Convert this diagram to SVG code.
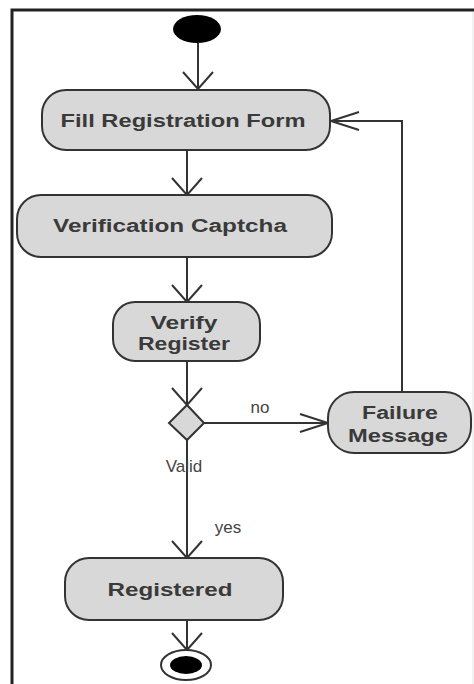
<svg xmlns="http://www.w3.org/2000/svg" width="474" height="684" viewBox="0 0 474 684">
<defs>
<style>
.node{fill:#d8d8d8;stroke:#333;stroke-width:2}
.lbl{font-family:"Liberation Sans",Arial,sans-serif;font-size:18px;font-weight:bold;fill:#3a3a3a;text-anchor:middle}
.small{font-family:"Liberation Sans",Arial,sans-serif;font-size:17px;fill:#444;text-anchor:middle}
.edge{stroke:#333;stroke-width:2;fill:none}
.frame{stroke:#222;stroke-width:3;fill:none}
</style>
<marker id="av" markerUnits="userSpaceOnUse" markerWidth="40" markerHeight="40" refX="18" refY="20" orient="auto" viewBox="0 0 40 40">
<path d="M1,5 L18,20 L1,35" fill="none" stroke="#333" stroke-width="2"/>
</marker>
<marker id="ah" markerUnits="userSpaceOnUse" markerWidth="40" markerHeight="40" refX="30" refY="20" orient="auto" viewBox="0 0 40 40">
<path d="M2,11 L30,20 L2,29" fill="none" stroke="#333" stroke-width="2"/>
</marker>
</defs>
<rect width="474" height="684" fill="#fff"/>
<g id="frame">
<path class="frame" d="M12,684 L12,10 L474,10"/>
<line x1="473" y1="12" x2="473" y2="684" stroke="#e4e4e4" stroke-width="1"/>
</g>
<g id="connectors">
<line class="edge" x1="198" y1="43" x2="198" y2="89" marker-end="url(#av)"/>
<line class="edge" x1="187" y1="150" x2="187" y2="195" marker-end="url(#av)"/>
<line class="edge" x1="187" y1="257" x2="187" y2="302" marker-end="url(#av)"/>
<line class="edge" x1="187" y1="361" x2="187" y2="405" marker-end="url(#av)"/>
<line class="edge" x1="204" y1="423" x2="328" y2="423" marker-end="url(#ah)"/>
<line class="edge" x1="187" y1="440" x2="187" y2="558" marker-end="url(#av)"/>
<line class="edge" x1="187" y1="620" x2="187" y2="650" marker-end="url(#av)"/>
<polyline class="edge" points="402,392 402,121 331,121" marker-end="url(#ah)"/>
<text class="small" x="260" y="413">no</text>
<text class="small" x="184" y="472">Valid</text>
<text class="small" x="228" y="533">yes</text>
</g>
<g id="start">
<ellipse cx="197" cy="29" rx="24" ry="14" fill="#000"/>
</g>
<g id="fill-form">
<rect class="node" x="42" y="90" width="288" height="60" rx="24" ry="24"/>
<text class="lbl" x="183" y="127" textLength="245" lengthAdjust="spacingAndGlyphs">Fill Registration Form</text>
</g>
<g id="captcha">
<rect class="node" x="17" y="195" width="315" height="62" rx="24" ry="24"/>
<text class="lbl" x="170" y="232" textLength="234" lengthAdjust="spacingAndGlyphs">Verification Captcha</text>
</g>
<g id="verify">
<rect class="node" x="113" y="302" width="147" height="59" rx="22" ry="22"/>
<text class="lbl" x="184" y="329" textLength="67" lengthAdjust="spacingAndGlyphs">Verify</text>
<text class="lbl" x="184" y="350" textLength="92" lengthAdjust="spacingAndGlyphs">Register</text>
</g>
<g id="decision">
<polygon points="187,405 204,423 187,440 169,423" fill="#d8d8d8" stroke="#333" stroke-width="2"/>
</g>
<g id="failure">
<rect class="node" x="328" y="392" width="143" height="61" rx="26" ry="26"/>
<text class="lbl" x="400" y="419" textLength="76" lengthAdjust="spacingAndGlyphs">Failure</text>
<text class="lbl" x="398" y="442" textLength="100" lengthAdjust="spacingAndGlyphs">Message</text>
</g>
<g id="registered">
<rect class="node" x="65" y="558" width="218" height="62" rx="24" ry="24"/>
<text class="lbl" x="170" y="596" textLength="125" lengthAdjust="spacingAndGlyphs">Registered</text>
</g>
<g id="end">
<ellipse cx="186" cy="665" rx="25" ry="15" fill="#fff" stroke="#333" stroke-width="2"/>
<ellipse cx="186" cy="665" rx="16" ry="9" fill="#000"/>
</g>
</svg>
